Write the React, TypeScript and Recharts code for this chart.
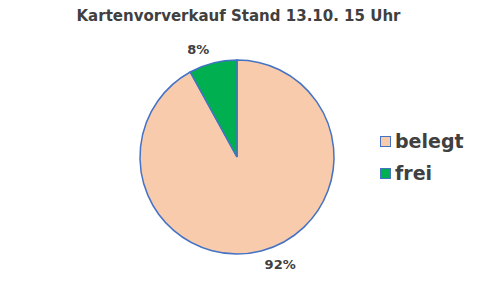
import React from "react"
import { PieChart, Pie, Cell, Legend } from "recharts"

const categories = ["belegt", "frei"]
const shares = [92, 8]
const colors = ["#F8CBAD", "#00B050"]

const pieData = categories.map((name, i) => ({ name, value: shares[i] }))

const FONT = "'DejaVu Sans', Verdana, sans-serif"
const RAD = Math.PI / 180

const renderLabel = (props: any) => {
  const { cx, cy, midAngle, outerRadius, value } = props
  const r = outerRadius + 14
  const cos = Math.cos(-midAngle * RAD)
  const sin = Math.sin(-midAngle * RAD)
  const x = cx + r * cos
  const y = cy + r * sin
  return (
    <text
      x={x}
      y={y}
      textAnchor={cos >= 0 ? "start" : "end"}
      dominantBaseline="central"
      style={{ fontFamily: FONT, fontSize: 13, fontWeight: "bold", fill: "#404040" }}
    >
      {`${value}%`}
    </text>
  )
}

const renderLegend = () => (
  <div style={{ fontFamily: FONT }}>
    {pieData.map((d, i) => (
      <div key={d.name} style={{ display: "flex", alignItems: "center", height: 32 }}>
        <span
          style={{
            display: "inline-block",
            width: 9,
            height: 9,
            background: colors[i],
            border: "1px solid #4472C4",
            marginRight: 4,
          }}
        />
        <span style={{ fontSize: 19, fontWeight: "bold", color: "#404040" }}>{d.name}</span>
      </div>
    ))}
  </div>
)

export default function App() {
  return (
    <div style={{ position: "absolute", left: 0, top: 0, width: 477, height: 285, background: "#fff" }}>
      <div
        style={{
          position: "absolute",
          top: 7,
          left: 0,
          width: 477,
          textAlign: "center",
          fontFamily: FONT,
          fontSize: 15,
          fontWeight: "bold",
          color: "#404040",
        }}
      >
        Kartenvorverkauf Stand 13.10. 15 Uhr
      </div>
      <PieChart width={477} height={285} margin={{ top: 0, right: 0, bottom: 0, left: 0 }}>
        <Pie
          data={pieData}
          dataKey="value"
          cx={237}
          cy={157}
          outerRadius={97}
          startAngle={90}
          endAngle={-270}
          stroke="#4472C4"
          strokeWidth={1.5}
          label={renderLabel}
          labelLine={false}
          isAnimationActive={false}
        >
          {pieData.map((_entry, index) => (
            <Cell key={`cell-${index}`} fill={colors[index]} />
          ))}
        </Pie>
        <Legend
          content={renderLegend}
          layout="vertical"
          verticalAlign="middle"
          align="right"
          wrapperStyle={{ left: 380, top: 125, width: 90 }}
        />
      </PieChart>
    </div>
  )
}
